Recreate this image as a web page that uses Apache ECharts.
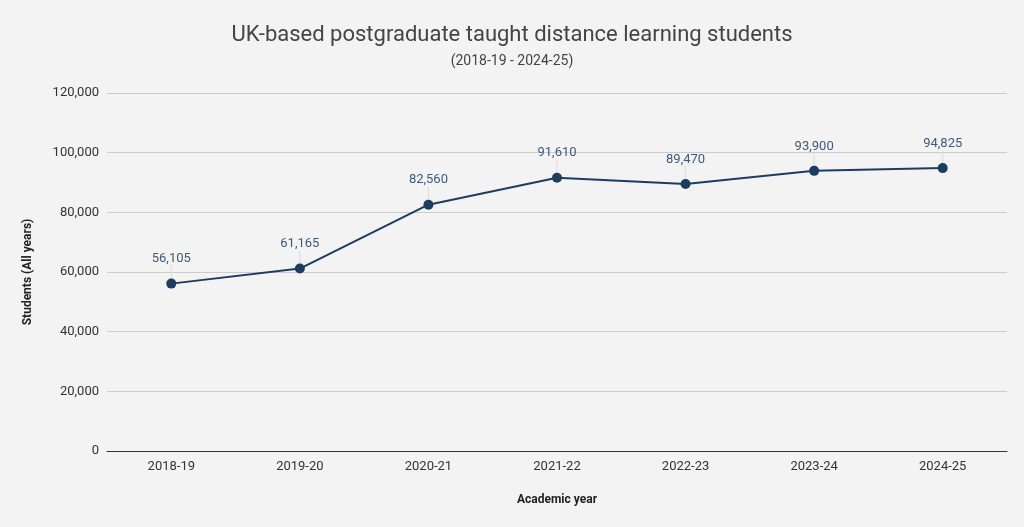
<!DOCTYPE html>
<html><head><meta charset="utf-8">
<script src="https://cdn.jsdelivr.net/npm/echarts@6/dist/echarts.min.js"></script>
<style>html,body{margin:0;padding:0;background:#f3f3f3}#c{width:1024px;height:527px}</style>
</head><body><div id="c"></div>
<script>
const categories = ['2018-19','2019-20','2020-21','2021-22','2022-23','2023-24','2024-25'];
const students = [56105, 61165, 82560, 91610, 89470, 93900, 94825];
const yTicks = [0, 20000, 40000, 60000, 80000, 100000, 120000];

const chart = echarts.init(document.getElementById('c'));
const fmt = v => v.toLocaleString('en-US');
chart.setOption({
  backgroundColor: '#f3f3f3',
  textStyle: { fontFamily: 'Roboto' },
  title: {
    text: 'UK-based postgraduate taught distance learning students',
    subtext: '(2018-19 - 2024-25)',
    left: 'center', top: 19, itemGap: 8,
    textStyle: { fontFamily: 'Roboto', fontSize: 22, fontWeight: 'normal', color: '#444' },
    subtextStyle: { fontFamily: 'Roboto', fontSize: 14, color: '#444' }
  },
  grid: { left: 107, right: 17, top: 93, bottom: 76, containLabel: false },
  xAxis: {
    type: 'category', data: categories, boundaryGap: true,
    name: 'Academic year', nameLocation: 'middle', nameGap: 43,
    nameTextStyle: { fontFamily: 'Roboto', fontSize: 12, fontWeight: 'bold', color: '#222' },
    axisLine: { lineStyle: { color: '#333', width: 1 } },
    axisTick: { show: false },
    axisLabel: { fontSize: 13, color: '#333', margin: 9 }
  },
  yAxis: {
    type: 'value', min: yTicks[0], max: yTicks[yTicks.length-1], interval: 20000,
    name: 'Students (All years)', nameLocation: 'middle', nameGap: 73,
    nameTextStyle: { fontFamily: 'Roboto', fontSize: 12, fontWeight: 'bold', color: '#222' },
    axisLine: { show: false }, axisTick: { show: false },
    axisLabel: { fontSize: 13, color: '#333', margin: 8, formatter: v => fmt(v) },
    splitLine: { lineStyle: { color: '#cccccc', width: 1 } }
  },
  series: [{
    type: 'line', data: students,
    symbol: 'circle', symbolSize: 10,
    lineStyle: { color: '#1d3d5f', width: 2 },
    itemStyle: { color: '#1d3d5f' },
    label: { show: true, position: 'top', distance: 4, fontSize: 13, color: '#3d5a7c', formatter: p => fmt(p.value) },
    labelLayout: { dy: -9 },
    labelLine: { show: true, lineStyle: { color: '#dcdcdc', width: 1 } }
  }]
});
</script></body></html>
